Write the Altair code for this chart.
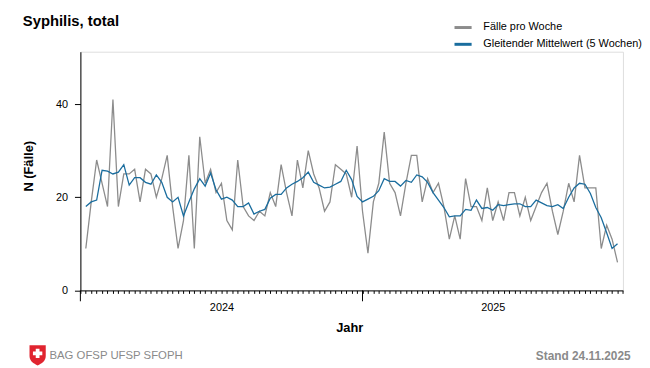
import altair as alt
import pandas as pd

# ---- data ----
weeks = list(range(1, 100))  # week index: 2024-W01 ... 2025-W47 (week end position)
cases = [9, 19, 28, 23, 18, 41, 18, 25, 25, 26,
         19, 26, 25, 20, 24, 29, 18, 9, 15, 29,
         9, 33, 23, 26, 21, 23, 15, 13, 28, 18,
         16, 15, 17, 16, 21, 18, 27, 21, 16, 28,
         22, 30, 25, 22, 17, 19, 27, 26, 25, 20,
         31, 17, 8, 19, 23, 34, 23, 21, 16, 23,
         29, 29, 19, 24, 21, 23, 18, 11, 16, 11,
         24, 18, 18, 15, 22, 15, 19, 15, 21, 21,
         16, 20, 15, 18, 21, 23, 17, 12, 17, 23,
         19, 29, 22, 22, 22, 9, 14, 11, 6]
moving_avg = [18, 19, 19.4, 25.8, 25.6, 25.0, 25.4, 27.0, 22.6, 24.2,
              24.2, 23.2, 22.8, 24.8, 23.2, 20.0, 19.0, 20.0, 16.0, 19.0,
              21.8, 24.0, 22.4, 25.2, 21.6, 19.6, 20.0, 19.4, 18.0, 18.0,
              18.8, 16.4, 17.0, 17.4, 19.8, 20.6, 20.6, 22.0, 22.8, 23.4,
              24.2, 25.4, 23.2, 22.6, 22.0, 22.2, 22.8, 23.4, 25.8, 23.8,
              20.2, 19.0, 19.6, 20.2, 21.4, 24.0, 23.4, 23.4, 22.4, 23.6,
              23.2, 24.8, 24.4, 23.2, 21.0, 19.4, 17.8, 15.8, 16.0, 16.0,
              17.4, 17.2, 19.4, 17.6, 17.8, 17.2, 18.4, 18.2, 18.4, 18.6,
              18.6, 18.0, 18.0, 19.4, 18.8, 18.2, 18.0, 18.4, 17.6, 20.0,
              22.0, 23.0, 22.8, 20.8, 17.8, 15.6, 12.4, 9, 10]
series_names = ["Fälle pro Woche", "Gleitender Mittelwert (5 Wochen)"]
series_colors = ["#8c8c8c", "#1a6d9e"]
year_labels = ["2024", "2025"]
year_label_pos = [26, 76]
year_break_ticks = [0, 52]
x_tick_values = list(range(0, 101))
y_ticks = [0, 20, 40]

FONT = "Liberation Sans"
W = 549.4
H = 241.7

df_cases = pd.DataFrame({"t": weeks, "n": cases, "series": series_names[0]})
df_ma = pd.DataFrame({"t": weeks, "n": moving_avg, "series": series_names[1]})

xscale = alt.Scale(domain=[0, 100], nice=False, zero=False)
yscale = alt.Scale(domain=[0, 51.25], nice=False)
cscale = alt.Scale(domain=series_names, range=series_colors)

label_expr = ("datum.value == %d ? '%s' : datum.value == %d ? '%s' : ''"
              % (year_label_pos[0], year_labels[0], year_label_pos[1], year_labels[1]))

x_axis = alt.Axis(
    values=x_tick_values, labelExpr=label_expr, labelOverlap=False,
    tickSize=3, labelPadding=8, title=None, grid=False,
    domainColor="black", tickColor="black", labelColor="black",
    labelFont=FONT, labelFontSize=11, labelAngle=0, labelFlush=False)
y_axis = alt.Axis(
    values=y_ticks, tickSize=6, labelPadding=7, title=None, grid=False,
    domainColor="black", tickColor="black", labelColor="black",
    labelFont=FONT, labelFontSize=11)

x_enc = alt.X("t:Q", scale=xscale, axis=x_axis)
y_enc = alt.Y("n:Q", scale=yscale, axis=y_axis)

legend = alt.Legend(orient="none", legendX=377, legendY=-35, title=None,
                    symbolType="stroke", symbolStrokeWidth=3, symbolSize=300,
                    labelFont=FONT, labelFontSize=11, labelColor="black",
                    labelOffset=10, rowPadding=0, labelLimit=400)

gray = alt.Chart(df_cases).mark_line(strokeWidth=1.3).encode(
    x=x_enc, y=y_enc, color=alt.Color("series:N", scale=cscale, legend=legend))
blue = alt.Chart(df_ma).mark_line(strokeWidth=1.3).encode(
    x=x_enc, y=y_enc, color=alt.Color("series:N", scale=cscale, legend=legend))

major = alt.Chart(pd.DataFrame({"t": year_break_ticks})).mark_rule(
    color="black", strokeWidth=1).encode(
    x=x_enc, y=alt.value(H), y2=alt.value(H + 11))


def txt(s, x, y, size, bold=False, align="left", color="black", angle=0):
    return alt.Chart(pd.DataFrame({"s": [s]})).mark_text(
        font=FONT, fontSize=size, fontWeight="bold" if bold else "normal",
        align=align, baseline="middle", color=color, angle=angle).encode(
        text="s:N", x=alt.value(x), y=alt.value(y))


title = txt("Syphilis, total", 23 - 81.3, 19 - 50, 15, bold=True)
ytitle = txt("N (Fälle)", 29 - 81.3, 166 - 50, 13, bold=True, align="center", angle=270)
xtitle = txt("Jahr", 354 - 81.3, 330 - 50, 13, bold=True, align="center")
bag = txt("BAG OFSP UFSP SFOPH", 50 - 81.3, 358 - 50, 11.5, color="#8a8a8a")
stand = txt("Stand 24.11.2025", 638.5 - 81.3, 358 - 50, 12, bold=True,
            align="right", color="#8a8a8a")

shield_path = ("M-1,-1.2 L1,-1.2 L1,0.15 C1,0.75 0.5,1.1 0,1.3 "
               "C-0.5,1.1 -1,0.75 -1,0.15 Z")
shield = alt.Chart(pd.DataFrame({"k": [1]})).mark_point(
    shape=shield_path, filled=True, color="#e0242f", size=270, opacity=1,
    strokeWidth=0).encode(x=alt.value(38 - 81.3), y=alt.value(357 - 50))
cross = alt.Chart(pd.DataFrame({"k": [1]})).mark_point(
    shape="cross", filled=True, color="white", size=90, opacity=1,
    strokeWidth=0).encode(x=alt.value(38 - 81.3), y=alt.value(355.5 - 50))

chart = alt.layer(gray, blue, major, title, ytitle, xtitle, bag, stand, shield, cross).properties(
    width=W, height=H,
    padding={"left": 73.3, "top": 42, "right": 19.3, "bottom": 76.3},
    autosize=alt.AutoSizeParams(type="none"),
).configure_view(stroke=None).configure(background="white")

chart.save("out.html", embed_options={"renderer": "svg", "actions": False})
